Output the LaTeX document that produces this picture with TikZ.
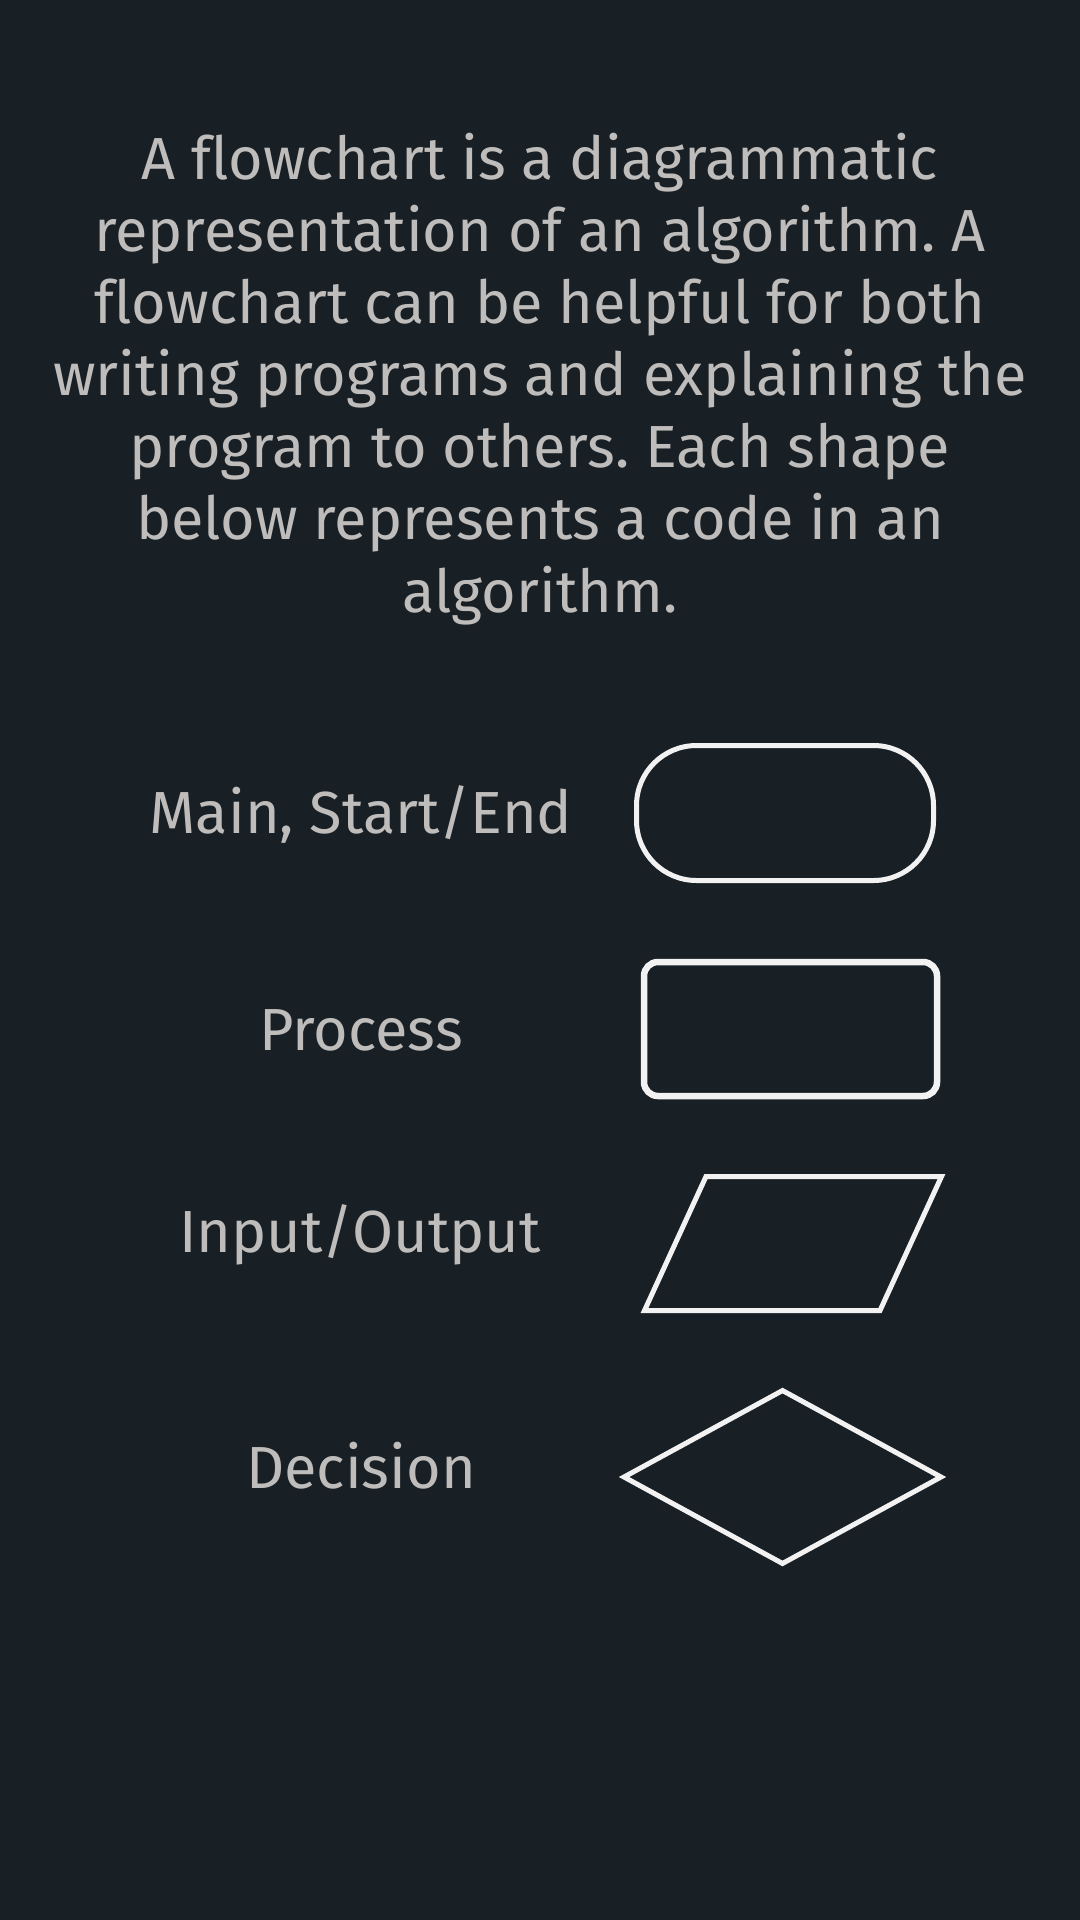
\documentclass[tikz,border=0pt]{standalone}
\usepackage{fontspec}
\setmainfont{Fira Sans}[Ligatures=NoCommon]
\usetikzlibrary{shapes.geometric}
\definecolor{bgdark}{HTML}{182026}
\definecolor{txtgrey}{HTML}{BFBDBB}
\definecolor{shapewhite}{HTML}{F2F2F2}
\tikzset{
  bodytext/.style={text=txtgrey, font=\fontsize{16.9}{20.5}\selectfont, align=center, inner sep=0pt, anchor=base},
  shapename/.style={text=txtgrey, font=\fontsize{16.9}{20.5}\selectfont, inner sep=0pt, anchor=base},
  legendshape/.style={draw=shapewhite, line width=0.05cm, inner sep=0pt},
  startend/.style={legendshape, rectangle, minimum width=2.97cm, minimum height=1.35cm, rounded corners=0.6cm},
  processbox/.style={legendshape, rectangle, line width=0.065cm, minimum width=2.93cm, minimum height=1.34cm, rounded corners=0.14cm},
  decisionbox/.style={legendshape, diamond, minimum width=3.19cm, minimum height=1.75cm}
}
\frenchspacing
\begin{document}
\begin{tikzpicture}
\useasboundingbox[fill=bgdark] (0,0) rectangle (10.8,-19.2);
% intro (base anchor sits on the last line)
\node[bodytext] (intro) at (5.40,-6.12) {A flowchart is a diagrammatic\\ representation of an algorithm. A\\ flowchart can be helpful for both\\ writing programs and explaining the\\ program to others. Each shape\\ below represents a code in an\\ algorithm.};
% legend
\node[shapename] (mainname) at (3.61,-8.33) {Main, Start/End};
\node[startend] (mainshape) at (7.85,-8.13) {};
\node[shapename] (processname) at (3.61,-10.50) {Process};
\node[processbox] (processshape) at (7.905,-10.29) {};
\node[shapename] (ioname) at (3.60,-12.52) {Input/Output};
\coordinate (ioshape) at (7.93,-12.435);
\draw[legendshape, shift={(ioshape)}] (-0.87,0.67) -- (1.485,0.67) -- (0.87,-0.67) -- (-1.485,-0.67) -- cycle;
\node[shapename] (decisionname) at (3.61,-14.88) {Decision};
\node[decisionbox] (decisionshape) at (7.825,-14.77) {};
\end{tikzpicture}
\end{document}
